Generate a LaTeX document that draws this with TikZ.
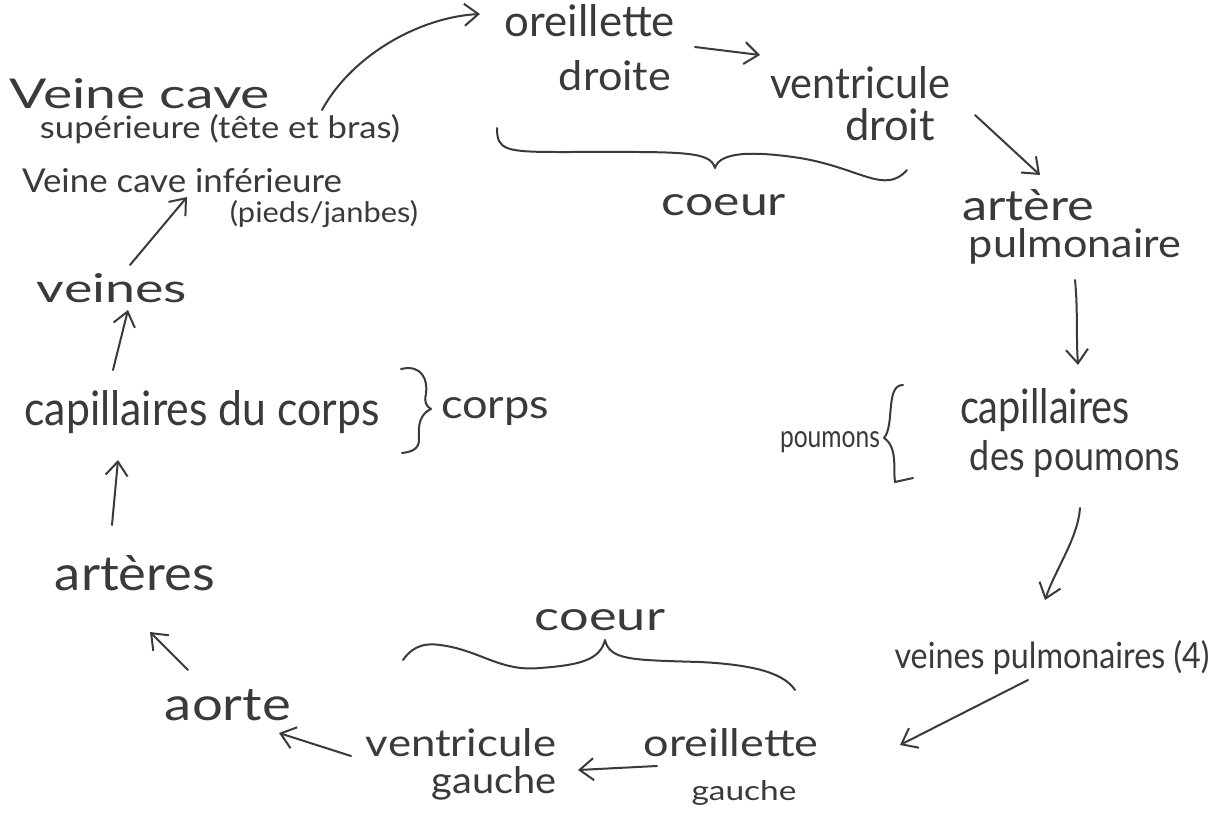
\documentclass[tikz,border=0pt]{standalone}
\usepackage{fontspec}
\setmainfont{Lato}
\usetikzlibrary{arrows.meta}
\newlength\pxu \setlength\pxu{0.5pt}
\newcommand\hw[3]{\resizebox{#1\pxu}{#2\pxu}{#3}}
\definecolor{ink}{HTML}{3A3A3A}
\begin{document}
\begin{tikzpicture}[x=0.5pt,y=-0.5pt,
  txt/.style={inner sep=0pt,text=ink,anchor=base},
  arr/.style={draw=ink,line width=1pt,line cap=round,-{Straight Barb[length=7pt,width=11pt]}},
  brace/.style={draw=ink,line width=1pt,line cap=round,line join=round}]
\fill[white] (0,0) rectangle (1217,815);
\useasboundingbox (0,0) rectangle (1217,815);
% texts
\node[txt] (od1) at (590,36) {\hw{170}{32}{oreillette}};
\node[txt] (od2) at (615,90) {\hw{112}{30}{droite}};
\node[txt] (vd1) at (860,98) {\hw{180}{32}{ventricule}};
\node[txt] (vd2) at (890,140) {\hw{90}{32}{droit}};
\node[txt] (vcs1) at (140,108) {\hw{260}{30}{Veine cave}};
\node[txt] (vcs2) at (220,138) {\hw{360}{24}{supérieure (tête et bras)}};
\node[txt] (vci1) at (182,192) {\hw{320}{24}{Veine cave inférieure}};
\node[txt] (vci2) at (324,222) {\hw{188}{22}{(pieds/janbes)}};
\node[txt] (coeur1) at (724,215) {\hw{124}{21}{coeur}};
\node[txt] (ap1) at (1028,220) {\hw{132}{31}{artère}};
\node[txt] (ap2) at (1075,257) {\hw{212}{29}{pulmonaire}};
\node[txt] (cp1) at (1045,423) {\hw{170}{35}{capillaires}};
\node[txt] (cp2) at (1075,470) {\hw{210}{30}{des poumons}};
\node[txt] (poum) at (830,447) {\hw{100}{16}{poumons}};
\node[txt] (vp) at (1052,668) {\hw{315}{28}{veines pulmonaires (4)}};
\node[txt] (og1) at (731,756) {\hw{175}{28}{oreillette}};
\node[txt] (og2) at (744,800) {\hw{105}{20}{gauche}};
\node[txt] (vg1) at (461,756) {\hw{190}{28}{ventricule}};
\node[txt] (vg2) at (494,793) {\hw{125}{27}{gauche}};
\node[txt] (coeur2) at (600,630) {\hw{130}{21}{coeur}};
\node[txt] (aorte) at (228,720) {\hw{126}{31}{aorte}};
\node[txt] (art) at (135,590) {\hw{160}{35}{artères}};
\node[txt] (cc) at (202,425) {\hw{355}{35}{capillaires du corps}};
\node[txt] (corps) at (495,418) {\hw{108}{21}{corps}};
\node[txt] (veines) at (112,302) {\hw{150}{29}{veines}};
% connectors
\draw[arr] ([shift={(102,-28)}]vcs2.base) .. controls +(30,-55) and +(-60,3) .. ([shift={(-110,-22)}]od1.base);
\draw[arr] ([shift={(105,11)}]od1.base) -- ([shift={(-100,-43)}]vd1.base);
\draw[arr] ([shift={(85,-25)}]vd2.base) -- ([shift={(12,-45)}]ap1.base);
\draw[arr] ([shift={(0,23)}]ap2.base) .. controls +(3,30) and +(-2,-30) .. ([shift={(33,-58)}]cp1.base);
\draw[arr] ([shift={(5,38)}]cp2.base) .. controls +(-2,30) and +(10,-30) .. ([shift={(-7,-68)}]vp.base);
\draw[arr] ([shift={(-24,12)}]vp.base) -- ([shift={(169,-11)}]og1.base);
\draw[arr] ([shift={(-74,10)}]og1.base) -- ([shift={(117,14)}]vg1.base);
\draw[arr] ([shift={(-110,0)}]vg1.base) -- ([shift={(51,13)}]aorte.base);
\draw[arr] ([shift={(-40,-50)}]aorte.base) -- ([shift={(15,42)}]art.base);
\draw[arr] ([shift={(-23,-65)}]art.base) -- ([shift={(-84,35)}]cc.base);
\draw[arr] ([shift={(-89,-55)}]cc.base) -- ([shift={(16,8)}]veines.base);
\draw[arr] ([shift={(18,-37)}]veines.base) -- ([shift={(5,5)}]vci1.base);
% braces
\draw[brace] (497,128) .. controls (497,150) and (505,152) .. (560,152)
  .. controls (680,152) and (710,150) .. (715,168)
  .. controls (720,150) and (760,152) .. (800,158)
  .. controls (860,168) and (885,195) .. (907,170);
\draw[brace] (403,660) .. controls (410,650) and (420,642) .. (440,645)
  .. controls (480,650) and (500,672) .. (540,668)
  .. controls (580,665) and (600,660) .. (605,640)
  .. controls (610,660) and (630,660) .. (700,662)
  .. controls (760,665) and (785,675) .. (795,690);
\draw[brace] (903,385) .. controls (885,385) and (895,425) .. (884,438)
  .. controls (898,447) and (893,470) .. (895,482) -- (913,478);
\draw[brace] (401,369) .. controls (422,364) and (428,380) .. (426,394)
  .. controls (424,402) and (426,406) .. (431,409)
  .. controls (420,414) and (418,425) .. (419,438)
  .. controls (420,450) and (410,452) .. (402,453);
\end{tikzpicture}
\end{document}
